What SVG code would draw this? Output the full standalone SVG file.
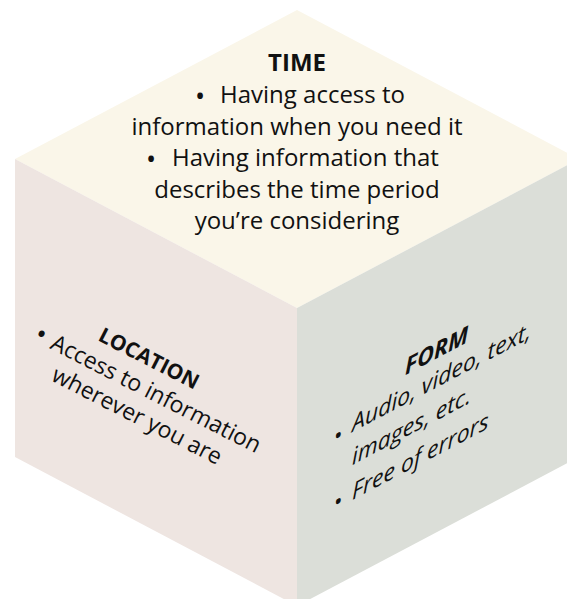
<svg xmlns="http://www.w3.org/2000/svg" width="567" height="599" viewBox="0 0 567 599">
<style>
.t{font-family:"Open Sans","Liberation Sans",sans-serif;fill:#111;}
.top{font-size:24px;text-anchor:middle;}
.st{font-size:24px;}
.blt{font-size:27px;}
.face{font-size:23px;}
.rf{font-size:23px;}
.b{font-weight:bold;}
.i{font-style:italic;}
</style>
<rect width="567" height="599" fill="#ffffff"/>
<g id="time">
<polygon points="297,10 579,159 297,308 15,159" fill="#FAF6E9"/>
<text class="t top b" x="297" y="71" font-size="23">TIME</text>
<text class="t st" y="103"><tspan class="blt" x="195" dy="3">•</tspan><tspan x="220" dy="-3">Having access to</tspan></text>
<text class="t top" x="297" y="135">information when you need it</text>
<text class="t st" y="166"><tspan class="blt" x="146" dy="3">•</tspan><tspan x="172" dy="-3">Having information that</tspan></text>
<text class="t top" x="297" y="198">describes the time period</text>
<text class="t top" x="297" y="229">you’re considering</text>
</g>
<g id="location">
<polygon points="15,159 297,308 297,606 15,457" fill="#EEE5E1"/>
<text class="t b" font-size="21" transform="translate(97,340) rotate(27)">LOCATION</text>
<text class="t" font-size="28" text-anchor="middle" transform="translate(37,343) rotate(27)">•</text>
<text class="t face" transform="translate(49,348) rotate(27)">Access to information</text>
<text class="t face" transform="translate(50,380) rotate(27)">wherever you are</text>
</g>
<g id="form">
<polygon points="297,308 579,159 579,457 297,606" fill="#DBDED8"/>
<g transform="matrix(1,-0.528,0,1,0,0)">
<text class="t rf b i" x="405" y="589" font-size="21">FORM</text>
<text class="t rf" x="334" y="622">•</text>
<text class="t rf i" x="352" y="618">Audio, video, text,</text>
<text class="t rf i" x="352" y="651">images, etc.</text>
<text class="t rf" x="334" y="688">•</text>
<text class="t rf i" x="352" y="686">Free of errors</text>
</g>
</g>
</svg>
